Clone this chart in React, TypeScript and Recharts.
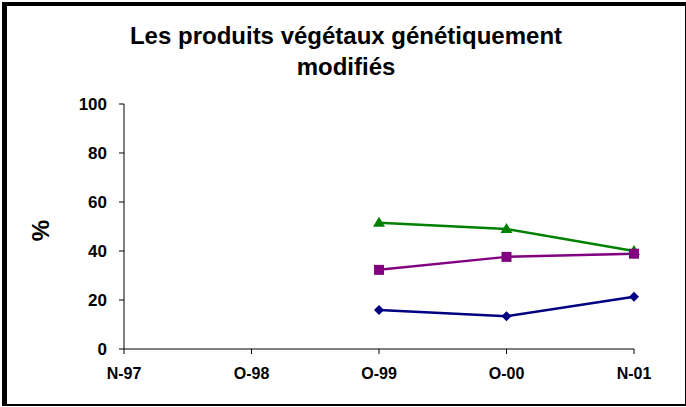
import React from 'react';
import { LineChart, Line, XAxis, YAxis } from 'recharts';

// Survey dates (category axis)
const periods = ['N-97', 'O-98', 'O-99', 'O-00', 'N-01'];

// Series values in %, null where there was no survey
const seriesGreen = [null, null, 51.5, 49, 40];
const seriesPurple = [null, null, 32.3, 37.6, 38.9];
const seriesNavy = [null, null, 15.9, 13.4, 21.3];

const yTicks = [0, 20, 40, 60, 80, 100];

const data = periods.map((p, i) => ({
  period: p,
  green: seriesGreen[i],
  purple: seriesPurple[i],
  navy: seriesNavy[i],
}));

const font = 'Arial, "Liberation Sans", sans-serif';

const Triangle = (props: any) => {
  const { cx, cy } = props;
  if (cx == null || cy == null || props.value == null) return null;
  return <path d={`M${cx},${cy - 6} L${cx + 6},${cy + 4} L${cx - 6},${cy + 4} Z`} fill="#008000" />;
};

const Square = (props: any) => {
  const { cx, cy } = props;
  if (cx == null || cy == null || props.value == null) return null;
  return <rect x={cx - 5} y={cy - 5} width={10} height={10} fill="#800080" />;
};

const Diamond = (props: any) => {
  const { cx, cy } = props;
  if (cx == null || cy == null || props.value == null) return null;
  return <path d={`M${cx},${cy - 5} L${cx + 5},${cy} L${cx},${cy + 5} L${cx - 5},${cy} Z`} fill="#000080" />;
};

export default function App() {
  return (
    <div style={{ position: 'fixed', left: 0, top: 0, width: 686, height: 407, background: '#fff', fontFamily: font }}>
      <div
        style={{
          position: 'absolute',
          left: 2,
          top: 2,
          width: 684,
          height: 404,
          boxSizing: 'border-box',
          borderStyle: 'solid',
          borderColor: '#000',
          borderWidth: '4px 1px 2px 5px',
        }}
      />
      <div
        style={{
          position: 'absolute',
          left: 0,
          top: 20,
          width: 692,
          textAlign: 'center',
          fontWeight: 'bold',
          fontSize: 24,
          lineHeight: '31px',
          color: '#000',
        }}
      >
        Les produits végétaux génétiquement
        <br />
        modifiés
      </div>
      <LineChart
        width={686}
        height={407}
        data={data}
        margin={{ top: 104, right: 52, bottom: 28, left: 0 }}
        style={{ position: 'absolute', left: 0, top: 0 }}
      >
        <XAxis
          dataKey="period"
          height={30}
          axisLine={{ stroke: '#000', strokeWidth: 1 }}
          tickLine={{ stroke: '#000' }}
          tickSize={5}
          tickMargin={14}
          interval={0}
          tick={{ fill: '#000', fontSize: 16, fontWeight: 'bold', fontFamily: font }}
        />
        <YAxis
          width={124}
          domain={[0, 100]}
          ticks={yTicks}
          axisLine={{ stroke: '#000', strokeWidth: 1 }}
          tickLine={{ stroke: '#000' }}
          tickSize={5}
          tickMargin={12}
          tick={{ fill: '#000', fontSize: 17, fontWeight: 'bold', fontFamily: font }}
          label={{
            value: '%',
            angle: -90,
            position: 'insideLeft',
            dx: 35,
            dy: 4,
            style: { fill: '#000', fontSize: 24, fontWeight: 'bold', fontFamily: font, textAnchor: 'middle' },
          }}
        />
        <Line dataKey="green" stroke="#008000" strokeWidth={2.5} dot={<Triangle />} activeDot={false} isAnimationActive={false} />
        <Line dataKey="purple" stroke="#800080" strokeWidth={2.5} dot={<Square />} activeDot={false} isAnimationActive={false} />
        <Line dataKey="navy" stroke="#000080" strokeWidth={2.5} dot={<Diamond />} activeDot={false} isAnimationActive={false} />
      </LineChart>
    </div>
  );
}
